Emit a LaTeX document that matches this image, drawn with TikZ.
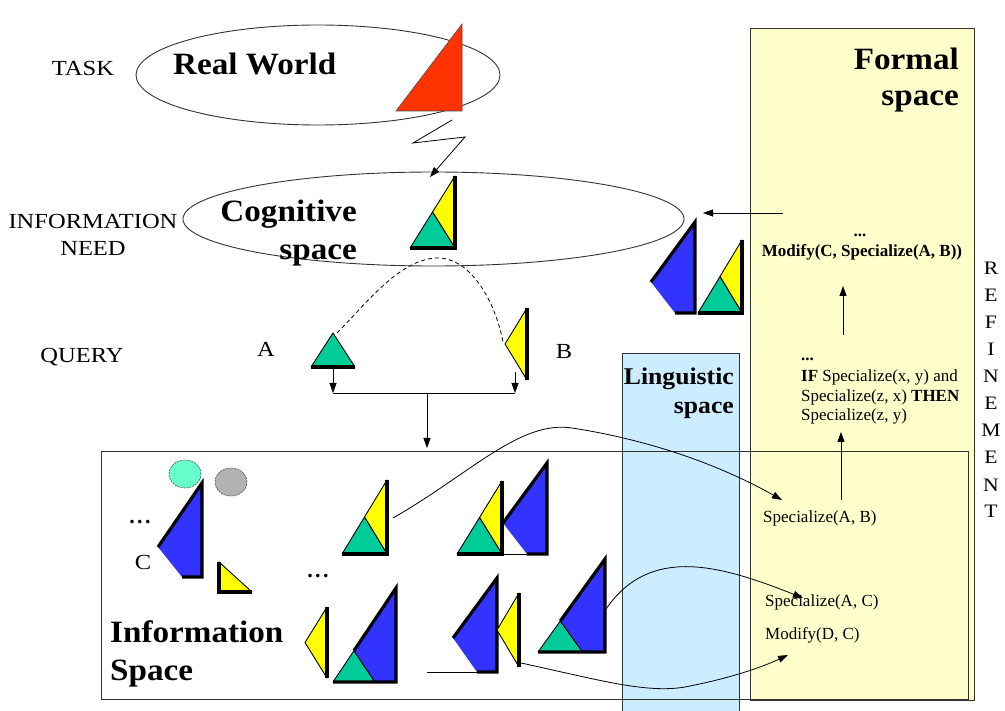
\documentclass[tikz,border=0pt]{standalone}
\usepackage{fontspec}
\setmainfont{Liberation Serif}
\newfontfamily\titlefont{Liberation Serif}[FakeStretch=1.07]
\newfontfamily\labelfont{Liberation Serif}[FakeStretch=1.14]
\usetikzlibrary{arrows.meta,shapes.geometric}

\definecolor{fyellow}{HTML}{FFFFCC}
\definecolor{lblue}{HTML}{CCECFF}
\definecolor{sblue}{HTML}{3333FF}
\definecolor{sgreen}{HTML}{00CC99}
\definecolor{syellow}{HTML}{FFFF00}
\definecolor{sred}{HTML}{FF3300}
\definecolor{mint}{HTML}{66FFCC}
\definecolor{lgray}{HTML}{B2B2B2}

\newcommand\fsz[2]{\fontsize{#1}{#2}\selectfont}
\newcommand\spaceddots{.\kern2.5pt.\kern2.5pt.}

% yellow/green sail: bottom-right corner x, y, width, height
\newcommand\ygsail[4]{%
  \filldraw[fill=syellow, edge] (#1,{#2-#4}) -- ({#1-#3/2},{#2-#4/2}) -- (#1,#2) -- cycle;
  \filldraw[fill=sgreen, edge] ({#1-#3},#2) -- ({#1-#3/2},{#2-#4/2}) -- (#1,#2) -- cycle;
  \draw[heavy] ({#1-#3},#2) -- (#1,#2) -- (#1,{#2-#4});}

% blue/green sail: bottom-right corner x, y, width, height
\newcommand\bgsail[4]{%
  \filldraw[fill=sgreen, edge] ({#1-#3},#2) -- ({#1-2*#3/3},{#2-#4/3}) -- ({#1-#3/3},#2) -- cycle;
  \fill[sblue] ({#1-2*#3/3},{#2-#4/3}) -- (#1,{#2-#4}) -- (#1,#2) -- ({#1-#3/3},#2) -- cycle;
  \draw[edge] ({#1-2*#3/3},{#2-#4/3}) -- ({#1-#3/3},#2);
  \draw[heavy] ({#1-2*#3/3},{#2-#4/3}) -- (#1,{#2-#4}) -- (#1,#2) -- ({#1-#3},#2);}

% blue sail with its lower-left corner cut away: bottom-right x, y, height, rise of left point
\newcommand\bcut[4]{%
  \fill[sblue] (#1,{#2-#3}) -- ({#1-44},{#2-#4}) -- ({#1-20},#2) -- (#1,#2) -- cycle;
  \draw[heavy] ({#1-44},{#2-#4}) -- (#1,{#2-#3}) -- (#1,#2) -- ({#1-20},#2);}

% yellow flag pointing left: right edge x, top y, bottom y
\newcommand\ytri[3]{%
  \filldraw[fill=syellow, edge] (#1,#2) -- ({#1-22},{(#2+#3)/2}) -- (#1,#3) -- cycle;
  \draw[heavy] (#1,#2) -- (#1,#3);}

\tikzset{
  edge/.style={draw=black, line width=0.9pt, line join=round},
  heavy/.style={line width=3.2pt},
  panel/.style={draw=black!80, line width=1pt},
  conn/.style={line width=0.8pt},
  tip/.style={-{Triangle[length=10pt,width=7pt]}},
  bigtitle/.style={font=\titlefont\fsz{31}{37}\bfseries, inner sep=0pt},
  midtitle/.style={font=\titlefont\fsz{24}{29}\bfseries, inner sep=0pt},
  lab/.style={font=\labelfont\fsz{21.5}{25}, inner sep=0pt},
  rule/.style={font=\fsz{17}{20}, inner sep=0pt},
  refine/.style={font=\labelfont\fsz{19}{23}, inner sep=0pt},
  dots/.style={font=\fsz{22}{26}\bfseries, inner sep=0pt},
  space/.style={ellipse, draw=black!80, line width=0.9pt, inner sep=0pt},
  blob/.style={ellipse, draw=black!70, line width=0.6pt, dash pattern=on 2pt off 1pt, inner sep=0pt,
               minimum width=32pt, minimum height=28pt},
}

\begin{document}
\begin{tikzpicture}[x=1pt, y=-1pt]
\useasboundingbox[fill=white] (0,0) rectangle (1005,711);

% ---- background panels ----
\fill[lblue] (622,354) rectangle (739,711);
\draw[panel] (622,711) -- (622,354) -- (739,354) -- (739,711);
\filldraw[fill=fyellow, panel] (750,29) rectangle (974,700);
\draw[panel] (101,452) rectangle (968,699);

% ---- spaces drawn as ellipses ----
\node[space, minimum width=364pt, minimum height=100pt] (realworld) at (318,75) {};
\node[space, minimum width=501pt, minimum height=94pt] (cognitive) at (433.5,219) {};

% ---- left-hand level labels ----
\node[lab, anchor=base] (task) at (83,76) {TASK};
\node[lab, anchor=base] (need1) at (93,229) {INFORMATION};
\node[lab, anchor=base] (need2) at (93,256) {NEED};
\node[lab, anchor=base] (query) at (82,363) {QUERY};

% ---- space titles ----
\node[bigtitle, anchor=base west] (rwtitle) at (173,75) {Real World};
\node[bigtitle, anchor=base east] (cogtitle1) at (357,222) {Cognitive};
\node[bigtitle, anchor=base east] (cogtitle2) at (357,260) {space};
\node[bigtitle, anchor=base east] (formal1) at (959,70) {Formal};
\node[bigtitle, anchor=base east] (formal2) at (959,106) {space};
\node[midtitle, anchor=base east] (ling1) at (734,385) {Linguistic};
\node[midtitle, anchor=base east] (ling2) at (734,414) {space};
\node[bigtitle, anchor=base west] (info1) at (110,642) {Information};
\node[bigtitle, anchor=base west] (info2) at (110,680) {Space};

% ---- refinement, spelled downwards ----
\foreach \ch [count=\i] in {R,E,F,I,N,E,M,E,N,T}
  \node[refine, anchor=base] (ref\i) at (991,{275+27*(\i-1)}) {\ch};

% ---- formal space contents ----
\node[rule, font=\fsz{17}{20}\bfseries, anchor=base] (fdots1) at (860,237) {...};
\node[rule, font=\fsz{17}{20}\bfseries, anchor=base] (modify) at (862,257) {Modify(C, Specialize(A, B))};
\node[rule, font=\fsz{17}{20}\bfseries, anchor=base west] (fdots2) at (801,361) {...};
\node[rule, anchor=base west] (rule1) at (801,382) {\textbf{IF} Specialize(x, y) and};
\node[rule, anchor=base west] (rule2) at (801,402) {Specialize(z, x) \textbf{THEN}};
\node[rule, anchor=base west] (rule3) at (801,421) {Specialize(z, y)};
\node[rule, anchor=base west] (specAB) at (763,522) {Specialize(A, B)};
\node[rule, anchor=base west] (specAC) at (765,606) {Specialize(A, C)};
\node[rule, anchor=base west] (modDC) at (765,639) {Modify(D, C)};

% ---- connector end points ----
\coordinate (z0) at (452,120);
\coordinate (z1) at (413,143);
\coordinate (z2) at (465,137);
\coordinate (zt) at (430,177);
\coordinate (qapex) at (337,333);
\coordinate (qbpt) at (503,342);
\coordinate (qa) at (333,368);
\coordinate (qb) at (515,372);
\coordinate (ja) at (333,393);
\coordinate (jb) at (515,393);
\coordinate (jm) at (427,393);
\coordinate (isin) at (427,448);
\coordinate (fstart) at (783,213);
\coordinate (fend) at (703,213);
\coordinate (up1s) at (843,335);
\coordinate (up1e) at (843,286);
\coordinate (up2s) at (841,500);
\coordinate (up2e) at (841,432);
\coordinate (s1r) at (393,518);
\coordinate (abtip) at (782,500);
\coordinate (s5r) at (606,609);
\coordinate (actip) at (803,598);
\coordinate (y4b) at (521,663);
\coordinate (dctip) at (788,655);
\coordinate (stub) at (427,672);
\coordinate (b4bl) at (478,672);

% ---- connectors ----
\draw[conn, tip, line join=miter] (z0) -- (z1) -- (z2) -- (zt);
\draw[conn, dash pattern=on 4pt off 3pt]
  (qapex) .. controls (365,305) and (400,258) .. (438,258)
          .. controls (470,258) and (495,300) .. (qbpt);
\draw[conn] (ja) -- (jb);
\draw[conn, tip] (qa) -- (ja);
\draw[conn, tip] (qb) -- (jb);
\draw[conn, tip] (jm) -- (isin);
\draw[conn, tip] (fstart) -- (fend);
\draw[conn, tip] (up1s) -- (up1e);
\draw[conn, tip] (up2s) -- (up2e);
\draw[conn, tip] (s1r) .. controls (470,474) and (520,420) .. (572,428)
                       .. controls (650,440) and (720,465) .. (abtip);
\draw[conn, tip] (s5r) .. controls (650,545) and (720,565) .. (actip);
\draw[conn, tip] (y4b) .. controls (600,680) and (650,695) .. (690,686)
                       .. controls (730,678) and (760,668) .. (dctip);
\draw[conn] (stub) -- (b4bl);

% ---- shapes ----
% real world object
\filldraw[fill=sred, draw=black!70, line width=0.6pt] (396,111) -- (462,24) -- (462,111) -- cycle;
% cognitive image
\ygsail{455}{248}{45}{72}
% query parts
\filldraw[fill=sgreen, edge] (311,367) -- (333,333) -- (355,367) -- cycle;
\draw[heavy] (311,367) -- (355,367);
\ytri{527}{308}{380}
\node[lab, anchor=base] (labA) at (266,357) {A};
\node[lab, anchor=base] (labB) at (564,359) {B};

% next to the formal space
\bcut{695}{313}{91}{31}
\ygsail{742}{313}{44}{73}

% information space objects
\node[blob, fill=mint] (blobg) at (185,474) {};
\node[blob, fill=lgray] (blobs) at (231,482) {};
\node[dots, anchor=base] (idots1) at (140,523) {\spaceddots};
\node[lab, anchor=base] (labC) at (143,569) {C};
\bcut{202}{577}{94}{30}
\filldraw[fill=syellow, edge] (219,562) -- (252,592) -- (219,592) -- cycle;
\draw[heavy] (219,562) -- (219,592) -- (252,592);

\ygsail{387}{554}{45}{74}
\bcut{547}{554}{91}{31}
\draw[edge] (502,554) -- (528,554);
\ygsail{502}{554}{45}{73}

\node[dots, anchor=base] (idots2) at (318,577) {\spaceddots};
\ytri{327}{607}{678}
\bgsail{396}{682}{63}{94}
\bcut{497}{672}{94}{34}
\ytri{519}{593}{667}
\bgsail{605}{652}{67}{93}
\end{tikzpicture}
\end{document}
